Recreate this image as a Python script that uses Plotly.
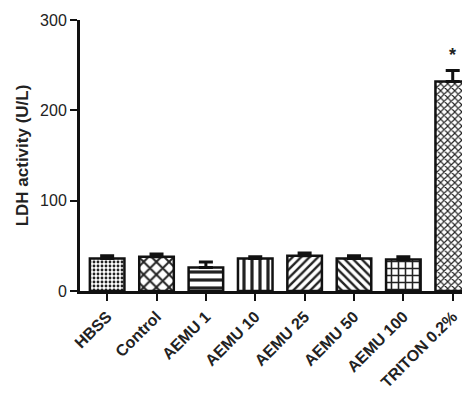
import plotly.graph_objects as go

categories = ["HBSS", "Control", "AEMU 1", "AEMU 10", "AEMU 25", "AEMU 50", "AEMU 100", "TRITON 0.2%"]
values = [36, 38, 26, 36, 39, 36, 35, 232]
errors = [3, 3, 6, 2, 3, 3, 3, 12]
patterns = [".", "x", "-", "|", "/", "\\", "+", "x"]
pattern_sizes = [4, 9, 8, 8, 6, 6, 7, 5]
tick_vals = [0, 100, 200, 300]

font = dict(family="Liberation Sans, Arial, sans-serif", color="#222222", size=16)

fig = go.Figure()
fig.add_trace(go.Bar(
    x=categories, y=values, width=0.7,
    marker=dict(color="white", line=dict(color="#111111", width=2.5),
                pattern=dict(shape=patterns, size=pattern_sizes, solidity=0.4,
                             fgcolor="#222222", bgcolor="white", fillmode="replace")),
    error_y=dict(type="data", symmetric=False, array=errors, arrayminus=[0]*len(errors),
                 color="#111111", thickness=3, width=7),
))
fig.add_annotation(x=categories[-1], y=values[-1] + errors[-1] + 4, text="<b>*</b>",
                   showarrow=False, yanchor="bottom", font=dict(size=18, color="#222222"))

fig.update_layout(
    width=462, height=389, margin=dict(l=72, r=0, t=12, b=106),
    plot_bgcolor="white", paper_bgcolor="white", showlegend=False, font=font,
)
fig.update_xaxes(range=[-0.55, 7.35], showline=True, linecolor="#111111", linewidth=3,
                 ticks="outside", ticklen=7, tickwidth=2, tickcolor="#111111",
                 tickangle=-45, tickfont=dict(size=16),
                 tickprefix="<b>", ticksuffix="</b>", showgrid=False)
fig.update_yaxes(range=[0, 300], tickvals=tick_vals, showline=True, linecolor="#111111", linewidth=3,
                 ticks="outside", ticklen=7, tickwidth=2, tickcolor="#111111",
                 tickfont=dict(size=16),
                 tickprefix="<b>", ticksuffix="</b>", showgrid=False, zeroline=False,
                 title=dict(text="<b>LDH activity (U/L)</b>", font=dict(size=17), standoff=8))

fig.write_html("out.html")
